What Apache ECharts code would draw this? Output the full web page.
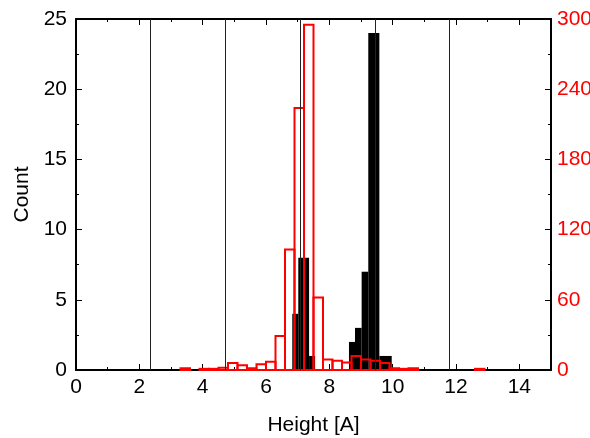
<!DOCTYPE html>
<html>
<head>
<meta charset="utf-8">
<script src="https://cdn.jsdelivr.net/npm/echarts@6/dist/echarts.min.js"></script>
<style>
  html, body { margin: 0; padding: 0; background: #fff; }
  #chart { width: 590px; height: 438px; }
</style>
</head>
<body>
<div id="chart"></div>
<script>
// black histogram (left axis, Count)
var blackLo = [6.83, 7.02, 7.36, 8.62, 8.81, 9.02, 9.23, 9.58];
var blackHi = [7.02, 7.36, 7.55, 8.81, 9.02, 9.23, 9.58, 9.97];
var blackCount = [4, 8, 1, 2, 3, 7, 24, 1];

// red histogram (right axis)
var redLo = [3.3, 3.9, 4.2, 4.5, 4.8, 5.1, 5.4, 5.7, 6.0, 6.3, 6.6, 6.9, 7.2, 7.5, 7.8, 8.1, 8.4, 8.7, 9.0, 9.3, 9.6, 9.9, 10.2, 10.5, 12.6];
var redHi = [3.6, 4.2, 4.5, 4.8, 5.1, 5.4, 5.7, 6.0, 6.3, 6.6, 6.9, 7.2, 7.5, 7.8, 8.1, 8.4, 8.7, 9.0, 9.3, 9.6, 9.9, 10.2, 10.5, 10.8, 12.9];
var redCount = [1.5, 1, 1, 2, 6, 4, 1.5, 5, 7, 29, 103, 224, 295, 62, 9, 8, 6.5, 12, 9, 8, 6, 1.5, 1, 1.5, 1];

// vertical reference lines
var refLines = [2.36, 4.72, 7.08, 9.44, 11.8];

var chart = echarts.init(document.getElementById("chart"));

var blackData = blackLo.map(function (v, i) { return [v, blackHi[i], blackCount[i]]; });
var redData = redLo.map(function (v, i) { return [v, redHi[i], redCount[i]]; });

function histRect(filled) {
  return function (params, api) {
    var p1 = api.coord([api.value(0), api.value(2)]);
    var p2 = api.coord([api.value(1), 0]);
    return {
      type: "rect",
      shape: { x: p1[0], y: p1[1], width: p2[0] - p1[0], height: p2[1] - p1[1] },
      style: filled
        ? { fill: "#000", stroke: null }
        : { fill: "none", stroke: "#ff0000", lineWidth: 2 },
    };
  };
}

var tickStyle = { color: "#000", width: 1 };
var font = "Liberation Sans, Arial, sans-serif";
var fs = 21;

var option = {
  backgroundColor: "#fff",
  animation: false,
  grid: { left: 76, right: 39, top: 19, bottom: 68, outerBoundsMode: "none" },
  xAxis: [
    {
      type: "value",
      min: 0,
      max: 15,
      interval: 2,
      position: "bottom",
      name: "Height [A]",
      nameLocation: "middle",
      nameGap: 45,
      nameTextStyle: { fontSize: fs, color: "#000", fontFamily: font },
      axisLine: { show: true, onZero: false, lineStyle: { color: "#000", width: 2 } },
      axisTick: { show: true, inside: true, length: 6, lineStyle: tickStyle },
      minorTick: { show: true, splitNumber: 2, length: 3, lineStyle: tickStyle },
      axisLabel: { fontSize: fs, color: "#000", fontFamily: font, margin: 7, showMaxLabel: false },
      splitLine: { show: false },
    },
    {
      type: "value",
      min: 0,
      max: 15,
      interval: 2,
      position: "top",
      axisLine: { show: true, onZero: false, lineStyle: { color: "#000", width: 2 } },
      axisTick: { show: true, inside: true, length: 6, lineStyle: tickStyle },
      minorTick: { show: true, splitNumber: 2, length: 3, lineStyle: tickStyle },
      axisLabel: { show: false },
      splitLine: { show: false },
    },
  ],
  yAxis: [
    {
      type: "value",
      min: 0,
      max: 25,
      interval: 5,
      position: "left",
      name: "Count",
      nameLocation: "middle",
      nameGap: 38,
      nameTextStyle: { fontSize: fs, color: "#000", fontFamily: font },
      axisLine: { show: true, onZero: false, lineStyle: { color: "#000", width: 2 } },
      axisTick: { show: true, inside: true, length: 6, lineStyle: tickStyle },
      minorTick: { show: true, splitNumber: 2, length: 3, lineStyle: tickStyle },
      axisLabel: { fontSize: fs, color: "#000", fontFamily: font, margin: 9 },
      splitLine: { show: false },
    },
    {
      type: "value",
      min: 0,
      max: 300,
      interval: 60,
      position: "right",
      axisLine: { show: true, onZero: false, lineStyle: { color: "#000", width: 2 } },
      axisTick: { show: true, inside: true, length: 6, lineStyle: tickStyle },
      minorTick: { show: true, splitNumber: 2, length: 3, lineStyle: tickStyle },
      axisLabel: { fontSize: fs, color: "#ff0000", fontFamily: font, margin: 6 },
      splitLine: { show: false },
    },
  ],
  series: [
    {
      name: "black",
      type: "custom",
      xAxisIndex: 0,
      yAxisIndex: 0,
      renderItem: histRect(true),
      encode: { x: [0, 1], y: 2 },
      data: blackData,
      z: 2,
      markLine: {
        silent: true,
        symbol: "none",
        label: { show: false },
        lineStyle: { color: "#222", width: 1, type: "solid" },
        data: refLines.map(function (v) { return { xAxis: v }; }),
      },
    },
    {
      name: "red",
      type: "custom",
      xAxisIndex: 0,
      yAxisIndex: 1,
      renderItem: histRect(false),
      encode: { x: [0, 1], y: 2 },
      data: redData,
      z: 3,
    },
  ],
};

chart.setOption(option);
</script>
</body>
</html>
